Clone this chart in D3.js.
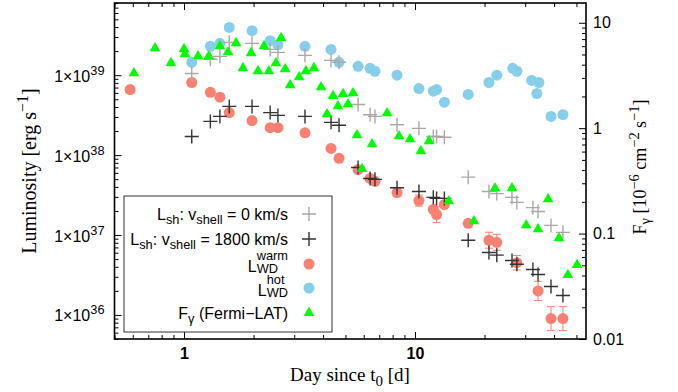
<!DOCTYPE html>
<html><head><meta charset="utf-8">
<script src="https://cdn.jsdelivr.net/npm/d3@7"></script>
<style>body{margin:0;background:#fff}svg{display:block}</style>
</head><body><svg id="c" width="678" height="392"></svg>
<script>
// ---------------- data ----------------
const shockDays = [1.08, 1.30, 1.43, 1.57, 1.97, 2.36, 2.55, 3.34, 4.33, 4.69, 5.67, 6.39, 6.71, 8.36, 10.4, 12.0, 12.4, 13.4, 17.0, 20.9, 22.6, 26.3, 27.6, 32.4, 34.1, 38.8, 43.7];
const shockV0 = [1.05e39, 1.58e39, 1.72e39, 2.57e39, 2.5e39, 2.1e39, 1.93e39, 1.77e39, 1.53e39, 1.45e39, 4.3e38, 3.2e38, 3.05e38, 2.4e38, 2.16e38, 1.71e38, 1.71e38, 1.67e38, 5.3e37, 3.5e37, 3.3e37, 2.96e37, 2.56e37, 2.2e37, 1.97e37, 1.32e37, 1.08e37];
const shockV1800 = [1.71e38, 2.64e38, 3.05e38, 4.07e38, 4.07e38, 3.4e38, 3.14e38, 3.05e38, 2.57e38, 2.36e38, 7.0e37, 5.1e37, 4.97e37, 3.9e37, 3.5e37, 2.96e37, 2.87e37, 2.87e37, 8.6e36, 6.05e36, 5.6e36, 4.8e36, 4.3e36, 3.7e36, 3.2e36, 2.27e36, 1.75e36];
const warmDays = [0.584, 1.08, 1.30, 1.43, 1.57, 1.97, 2.36, 2.55, 3.34, 4.33, 4.69, 5.67, 6.39, 6.71, 8.36, 10.4, 12.0, 12.4, 13.4, 17.0, 20.9, 22.6, 27.6, 34.1, 38.8, 43.7];
const warmLum = [6.6e38, 8.1e38, 6.1e38, 5.3e38, 3.4e38, 2.7e38, 2.2e38, 2.2e38, 1.9e38, 1.21e38, 9.1e37, 6.6e37, 5.1e37, 4.7e37, 3.4e37, 2.7e37, 2.1e37, 1.8e37, 2.4e37, 1.4e37, 8.6e36, 8.1e36, 4.5e36, 2.0e36, 9.0e35, 9.0e35];
const warmErrDex = [0, 0, 0, 0, 0, 0, 0, 0, 0, 0, 0, 0, 0, 0, 0.05, 0.07, 0, 0.1, 0, 0, 0.1, 0.1, 0.09, 0.12, 0.15, 0.15];
const hotDays = [1.08, 1.30, 1.43, 1.57, 1.97, 2.36, 2.55, 3.34, 4.33, 4.69, 5.67, 6.39, 6.71, 8.36, 10.4, 12.0, 12.4, 13.4, 17.0, 20.9, 22.6, 26.5, 27.6, 32.0, 33.7, 34.4, 38.8, 43.7];
const hotLum = [1.45e39, 2.3e39, 2.5e39, 3.96e39, 3.6e39, 2.7e39, 2.4e39, 2.3e39, 2.1e39, 1.45e39, 1.29e39, 1.22e39, 1.12e39, 1.0e39, 6.8e38, 6.3e38, 6.6e38, 4.6e38, 5.75e38, 8.1e38, 1.0e39, 1.22e39, 1.12e39, 8.6e38, 5.9e38, 8.1e38, 3.05e38, 3.2e38];
const gammaDays = [0.607, 0.749, 0.878, 1.00, 1.01, 1.15, 1.28, 1.43, 1.55, 1.68, 1.80, 1.95, 2.09, 2.22, 2.33, 2.50, 2.63, 2.74, 2.88, 3.15, 3.37, 3.65, 3.92, 4.16, 4.42, 4.64, 4.88, 5.13, 5.39, 5.61, 5.90, 6.52, 7.57, 8.53, 9.51, 10.6, 11.5, 14.0, 18.0, 22.2, 26.3, 30.3, 34.1, 37.7, 42.0, 45.9, 50.3];
const gammaFlux = [3.33, 5.75, 4.15, 5.63, 5.05, 4.83, 4.83, 6.01, 5.27, 6.42, 3.72, 5.16, 3.48, 6.01, 3.48, 4.15, 7.16, 3.64, 2.56, 3.05, 3.48, 3.72, 2.45, 1.36, 2.02, 1.62, 2.11, 1.69, 2.15, 0.86, 0.41, 0.706, 1.39, 0.84, 0.787, 0.607, 0.755, 0.203, 0.131, 0.27, 0.27, 0.12, 0.11, 0.212, 0.0905, 0.0405, 0.0504];
const xTickValues = [1, 10];
const yLeftTickValues = [1e36, 1e37, 1e38, 1e39];
const yRightTickValues = [0.01, 0.1, 1, 10];
const yRightTickLabels = ["0.01", "0.1", "1", "10"];

// ---------------- layout ----------------
const svg = d3.select("#c");
const L = 114.5, R = 586, T = 3, B = 339;
const x = d3.scaleLog().domain([0.5, 55]).range([L, R]);
const yL = d3.scaleLog().domain([5e35, 8e39]).range([B, T]);
const yR = d3.scaleLog().domain([0.01, 15.4]).range([B, T]);
const SANS = "'Liberation Sans', Arial, Helvetica, sans-serif";
const SERIF = "'Liberation Serif', 'Times New Roman', serif";
const C_WARM = "#fa8072", C_HOT = "#87ceeb", C_GAM = "#00ff00", C_V0 = "#a8a8a8", C_V1800 = "#333333";

function minorTicks(scale) {
  const [a, b] = scale.domain(), out = [];
  for (let e = Math.floor(Math.log10(a)); e <= Math.ceil(Math.log10(b)); e++)
    for (let m = 2; m < 10; m++) {
      const v = +(m * Math.pow(10, e)).toPrecision(6);
      if (v >= a && v <= b) out.push(v);
    }
  return out;
}
function styleAxis(g) {
  g.select(".domain").remove();
  g.selectAll(".tick line").attr("stroke", "#000").attr("stroke-width", 1);
}

// bottom / top
svg.append("g").attr("transform", `translate(0,${B})`)
  .call(d3.axisBottom(x).tickValues(xTickValues).tickSizeInner(-7).tickSizeOuter(0).tickPadding(9).tickFormat(d3.format("d")))
  .call(styleAxis)
  .call(g => g.selectAll("text").attr("font-family", SANS).attr("font-size", 16).attr("font-weight", "bold").attr("fill", "#000"));
svg.append("g").attr("transform", `translate(0,${B})`)
  .call(d3.axisBottom(x).tickValues(minorTicks(x)).tickSizeInner(-4).tickSizeOuter(0).tickFormat(""))
  .call(styleAxis);
svg.append("g").attr("transform", `translate(0,${T})`)
  .call(d3.axisTop(x).tickValues(xTickValues).tickSizeInner(-7).tickSizeOuter(0).tickFormat(""))
  .call(styleAxis);
svg.append("g").attr("transform", `translate(0,${T})`)
  .call(d3.axisTop(x).tickValues(minorTicks(x)).tickSizeInner(-4).tickSizeOuter(0).tickFormat(""))
  .call(styleAxis);

// left
const gl = svg.append("g").attr("transform", `translate(${L},0)`)
  .call(d3.axisLeft(yL).tickValues(yLeftTickValues).tickSizeInner(-7).tickSizeOuter(0).tickPadding(10).tickFormat(""))
  .call(styleAxis);
gl.selectAll(".tick text").each(function (d) {
  const t = d3.select(this).attr("font-family", SANS).attr("font-size", 16).attr("fill", "#000").attr("dy", null).attr("y", 6);
  t.append("tspan").text("1\u00d710");
  t.append("tspan").attr("font-size", 12.8).attr("dy", -7).text(Math.round(Math.log10(d)));
});
svg.append("g").attr("transform", `translate(${L},0)`)
  .call(d3.axisLeft(yL).tickValues(minorTicks(yL)).tickSizeInner(-4).tickSizeOuter(0).tickFormat(""))
  .call(styleAxis);

// right
svg.append("g").attr("transform", `translate(${R},0)`)
  .call(d3.axisRight(yR).tickValues(yRightTickValues).tickSizeInner(-7).tickSizeOuter(0).tickPadding(7)
    .tickFormat((d, i) => yRightTickLabels[i]))
  .call(styleAxis)
  .call(g => g.selectAll("text").attr("font-family", SANS).attr("font-size", 16).attr("fill", "#000"));
svg.append("g").attr("transform", `translate(${R},0)`)
  .call(d3.axisRight(yR).tickValues(minorTicks(yR)).tickSizeInner(-4).tickSizeOuter(0).tickFormat(""))
  .call(styleAxis);

// frame
svg.append("rect").attr("x", L).attr("y", T).attr("width", R - L).attr("height", B - T)
  .attr("fill", "none").attr("stroke", "#000").attr("stroke-width", 1.6);

// ---------------- marks ----------------
const plusPath = "M-7,0H7M0,-7V7";
const triSym = d3.symbol().type(d3.symbolTriangle).size(50);

// warm error bars
const errG = svg.append("g").attr("stroke", C_WARM).attr("stroke-width", 1);
warmDays.forEach((d, i) => {
  const e = warmErrDex[i];
  if (!e) return;
  const cx = x(d), y1 = yL(warmLum[i] * Math.pow(10, e)), y2 = yL(warmLum[i] / Math.pow(10, e));
  errG.append("line").attr("x1", cx).attr("x2", cx).attr("y1", y1).attr("y2", y2);
  errG.append("line").attr("x1", cx - 4).attr("x2", cx + 4).attr("y1", y1).attr("y2", y1);
  errG.append("line").attr("x1", cx - 4).attr("x2", cx + 4).attr("y1", y2).attr("y2", y2);
});
svg.append("g").selectAll("circle").data(warmDays).join("circle")
  .attr("cx", d => x(d)).attr("cy", (d, i) => yL(warmLum[i])).attr("r", 5.5).attr("fill", C_WARM);
svg.append("g").selectAll("circle").data(hotDays).join("circle")
  .attr("cx", d => x(d)).attr("cy", (d, i) => yL(hotLum[i])).attr("r", 5.5).attr("fill", C_HOT);
svg.append("g").selectAll("path").data(shockDays).join("path")
  .attr("d", plusPath).attr("transform", (d, i) => `translate(${x(d)},${yL(shockV0[i])})`)
  .attr("stroke", C_V0).attr("stroke-width", 1.4).attr("fill", "none");
svg.append("g").selectAll("path").data(shockDays).join("path")
  .attr("d", plusPath).attr("transform", (d, i) => `translate(${x(d)},${yL(shockV1800[i])})`)
  .attr("stroke", C_V1800).attr("stroke-width", 1.4).attr("fill", "none");
svg.append("g").selectAll("path").data(gammaDays).join("path")
  .attr("d", triSym).attr("transform", (d, i) => `translate(${x(d)},${yR(gammaFlux[i])})`)
  .attr("fill", C_GAM);

// ---------------- legend ----------------
svg.append("rect").attr("x", 124).attr("y", 196).attr("width", 208).attr("height", 136)
  .attr("fill", "none").attr("stroke", "#333").attr("stroke-width", 1);
const symX = 309, textR = 288;
const rows = [214, 239, 264, 288, 313];
const lg = svg.append("g").attr("font-family", SANS).attr("font-size", 16).attr("fill", "#000");
function shellRow(y, vel) {
  const t = lg.append("text").attr("x", textR).attr("y", y + 5.5).attr("text-anchor", "end");
  t.append("tspan").text("L");
  t.append("tspan").attr("font-size", 12.8).attr("dy", 4).text("sh");
  t.append("tspan").attr("dy", -4).text(": v");
  t.append("tspan").attr("font-size", 12.8).attr("dy", 4).text("shell");
  t.append("tspan").attr("dy", -4).text(" = " + vel + " km/s");
}
shellRow(rows[0], "0");
shellRow(rows[1], "1800");
function wdRow(y, sup) {
  const s1 = lg.append("text").attr("font-size", 12.8).attr("y", y - 4.5).text(sup);
  const s2 = lg.append("text").attr("font-size", 12.8).attr("y", y + 8.5).text("WD");
  const w = Math.max(s1.node().getComputedTextLength(), s2.node().getComputedTextLength());
  const xs = textR - w;
  s1.attr("x", xs); s2.attr("x", xs);
  lg.append("text").attr("x", xs).attr("y", y + 7.5).attr("text-anchor", "end").text("L");
}
wdRow(rows[2], "warm");
wdRow(rows[3], "hot");
const gt = lg.append("text").attr("x", textR).attr("y", rows[4] + 5.5).attr("text-anchor", "end");
gt.append("tspan").text("F");
gt.append("tspan").attr("font-size", 12.8).attr("dy", 4).text("\u03b3");
gt.append("tspan").attr("dy", -4).text(" (Fermi\u2212LAT)");

lg.append("path").attr("d", plusPath).attr("transform", `translate(${symX},${rows[0]})`).attr("stroke", C_V0).attr("stroke-width", 1.4);
lg.append("path").attr("d", plusPath).attr("transform", `translate(${symX},${rows[1]})`).attr("stroke", C_V1800).attr("stroke-width", 1.4);
lg.append("circle").attr("cx", symX).attr("cy", rows[2]).attr("r", 5.5).attr("fill", C_WARM);
lg.append("circle").attr("cx", symX).attr("cy", rows[3]).attr("r", 5.5).attr("fill", C_HOT);
lg.append("path").attr("d", triSym).attr("transform", `translate(${symX},${rows[4]})`).attr("fill", C_GAM);

// ---------------- axis titles ----------------
const xt = svg.append("text").attr("x", 350).attr("y", 381).attr("text-anchor", "middle")
  .attr("font-family", SERIF).attr("font-size", 19).attr("fill", "#000");
xt.append("tspan").text("Day since t");
xt.append("tspan").attr("font-size", 15).attr("dy", 5).text("0");
xt.append("tspan").attr("dy", -5).text(" [d]");

const yt = svg.append("text").attr("transform", `translate(36,${(T + B) / 2}) rotate(-90)`).attr("text-anchor", "middle")
  .attr("font-family", SERIF).attr("font-size", 20).attr("fill", "#000");
yt.append("tspan").text("Luminosity [erg s");
yt.append("tspan").attr("font-size", 16).attr("dy", -8).text("\u22121");
yt.append("tspan").attr("dy", 8).text("]");

const rt = svg.append("text").attr("transform", `translate(646,${(T + B) / 2 - 4}) rotate(-90)`).attr("text-anchor", "middle")
  .attr("font-family", SERIF).attr("font-size", 18).attr("fill", "#000");
rt.append("tspan").text("F");
rt.append("tspan").attr("font-size", 14.4).attr("dy", 4).text("\u03b3");
rt.append("tspan").attr("dy", -4).text(" [10");
rt.append("tspan").attr("font-size", 14.4).attr("dy", -7).text("\u22126");
rt.append("tspan").attr("dy", 7).text(" cm");
rt.append("tspan").attr("font-size", 14.4).attr("dy", -7).text("\u22122");
rt.append("tspan").attr("dy", 7).text(" s");
rt.append("tspan").attr("font-size", 14.4).attr("dy", -7).text("\u22121");
rt.append("tspan").attr("dy", 7).text("]");
</script>
</body></html>
